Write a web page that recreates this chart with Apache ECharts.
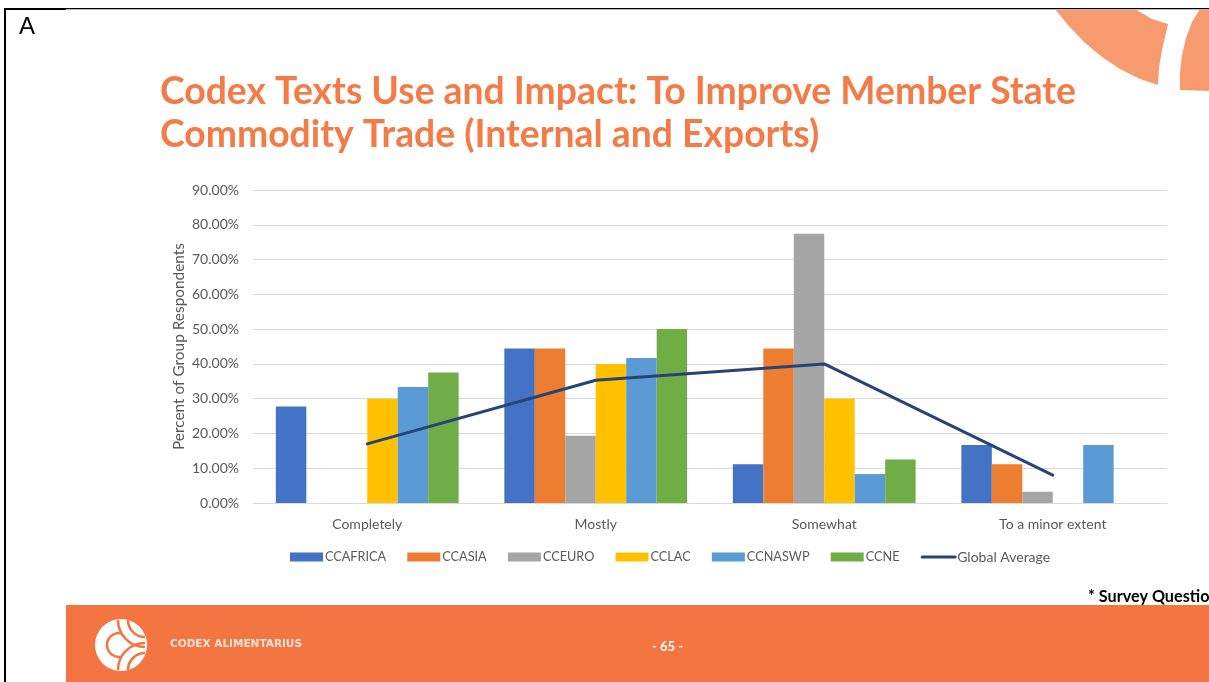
<!DOCTYPE html>
<html><head><meta charset="utf-8">
<style>html,body{margin:0;padding:0;background:#fff;overflow:hidden}#c{width:1209px;height:682px}</style>
<script src="https://cdn.jsdelivr.net/npm/echarts@6/dist/echarts.min.js"></script>
</head><body><div id="c"></div>
<script>
const categories = ['Completely', 'Mostly', 'Somewhat', 'To a minor extent'];
const ccafrica = [27.78, 44.44, 11.11, 16.67];
const ccasia = [null, 44.44, 44.44, 11.11];
const cceuro = [null, 19.35, 77.42, 3.23];
const cclac = [30, 40, 30, null];
const ccnaswp = [33.33, 41.67, 8.33, 16.67];
const ccne = [37.5, 50, 12.5, null];
const globalAverage = [17, 35.3, 40, 8];
const titleText = 'Codex Texts Use and Impact: To Improve Member State\nCommodity Trade (Internal and Exports)';

const font = 'Lato';
const bar = (name, data, color) => ({
  name, type: 'bar', data, barGap: 0, barCategoryGap: '20%',
  itemStyle: { color, borderColor: '#fff', borderWidth: 0 }
});
const capsItem = name => ({ name, icon: 'rect', textStyle: { fontSize: 12.7 } });
const logoArc = (cx, cy, r, startAngle, endAngle) => ({
  type: 'arc', shape: { cx, cy, r, startAngle, endAngle },
  style: { stroke: '#F37541', lineWidth: 2.5, fill: 'none' }, z: 11
});
const chart = echarts.init(document.getElementById('c'), null, { renderer: 'canvas' });
chart.setOption({
  animation: false,
  backgroundColor: '#fff',
  textStyle: { fontFamily: font },
  title: {
    text: titleText, left: 160, top: 70, padding: 0,
    textStyle: { fontFamily: font, fontWeight: 'bold', fontSize: 37.3, lineHeight: 43, color: '#F47B46' }
  },
  grid: { left: 253, right: 42, top: 190, height: 313 },
  legend: {
    left: 285, top: 545, itemWidth: 33, itemHeight: 9, itemGap: 21.2,
    textStyle: { fontFamily: font, fontSize: 13, color: '#595959', padding: [0, 0, 0, -3] },
    data: [
      capsItem('CCAFRICA'), capsItem('CCASIA'), capsItem('CCEURO'),
      capsItem('CCLAC'), capsItem('CCNASWP'), capsItem('CCNE'),
      { name: 'Global Average', itemStyle: { opacity: 0 }, lineStyle: { width: 3, color: '#264478' }, textStyle: { fontSize: 14, padding: [0, 0, 1, -3] } }
    ]
  },
  xAxis: {
    type: 'category', data: categories,
    axisLine: { lineStyle: { color: '#D9D9D9', width: 1 } }, axisTick: { show: false },
    axisLabel: { fontFamily: font, fontSize: 14, color: '#595959', margin: 14 }
  },
  yAxis: {
    type: 'value', min: 0, max: 90, interval: 10,
    name: 'Percent of Group Respondents', nameLocation: 'middle', nameGap: 66, nameMoveOverlap: false,
    nameTextStyle: { fontFamily: font, fontSize: 15.4, color: '#595959' },
    axisLine: { show: false }, axisTick: { show: false },
    axisLabel: { fontFamily: font, fontSize: 14, color: '#595959', margin: 14, formatter: v => v.toFixed(2) + '%' },
    splitLine: { lineStyle: { color: '#D9D9D9', width: 1 } }
  },
  series: [
    bar('CCAFRICA', ccafrica, '#4472C4'),
    bar('CCASIA', ccasia, '#ED7D31'),
    bar('CCEURO', cceuro, '#A5A5A5'),
    bar('CCLAC', cclac, '#FFC000'),
    bar('CCNASWP', ccnaswp, '#5B9BD5'),
    bar('CCNE', ccne, '#70AD47'),
    { name: 'Global Average', type: 'line', data: globalAverage, symbol: 'none', z: 5,
      lineStyle: { color: '#264478', width: 3, cap: 'round' }, itemStyle: { color: '#264478' } }
  ],
  graphic: [
    { type: 'rect', shape: { x: 66, y: 605, width: 1143, height: 77 }, style: { fill: '#F37541' }, z: -1 },
    { type: 'polygon', shape: { points: [[1055,9],[1068,25],[1084,42],[1102,57],[1120,69],[1140,79],[1158,85],[1159,68],[1162,50],[1168,24],[1152,19],[1135,9]] }, style: { fill: '#F79A70' }, z: -1 },
    { type: 'polygon', shape: { points: [[1200,9],[1192,22],[1186,38],[1182,55],[1180,72],[1180,90],[1209,91],[1209,9]] }, style: { fill: '#F79A70' }, z: -1 },
    { type: 'rect', shape: { x: 4, y: 8, width: 2, height: 674 }, style: { fill: '#000' }, z: 10 },
    { type: 'rect', shape: { x: 4, y: 8, width: 62, height: 2 }, style: { fill: '#000' }, z: 10 },
    { type: 'rect', shape: { x: 66, y: 8, width: 1143, height: 1 }, style: { fill: '#000' }, z: 10 },
    { type: 'rect', shape: { x: 66, y: 9, width: 1143, height: 1 }, style: { fill: '#BBB' }, z: 9 },
    { type: 'text', x: 19, y: 15, style: { text: 'A', font: '24px "Liberation Sans"', fill: '#000' }, z: 10 },
    { type: 'text', x: 1088, y: 589, style: { text: '* Survey Question', font: 'bold 16.2px Lato', fill: '#000' }, z: 10 },
    { type: 'text', x: 652, y: 640, style: { text: '- 65 -', font: 'bold 13px Lato', fill: '#fff' }, z: 10 },
    { type: 'text', x: 170, y: 639, style: { text: 'CODEX ALIMENTARIUS', font: 'bold 10.5px "DejaVu Sans"', fill: '#FBE3D8' }, z: 10 },
    { type: 'circle', shape: { cx: 121, cy: 645, r: 26 }, style: { fill: '#fff' }, z: 10 },
    logoArc(119, 645, 12, 1.4, 4.9),
    logoArc(145, 620, 17, 1.57, 3.14),
    logoArc(145, 620, 27, 1.57, 3.14),
    logoArc(145, 670, 17, 3.14, 4.71),
    logoArc(145, 670, 27, 3.14, 4.71)
  ]
});
</script></body></html>
